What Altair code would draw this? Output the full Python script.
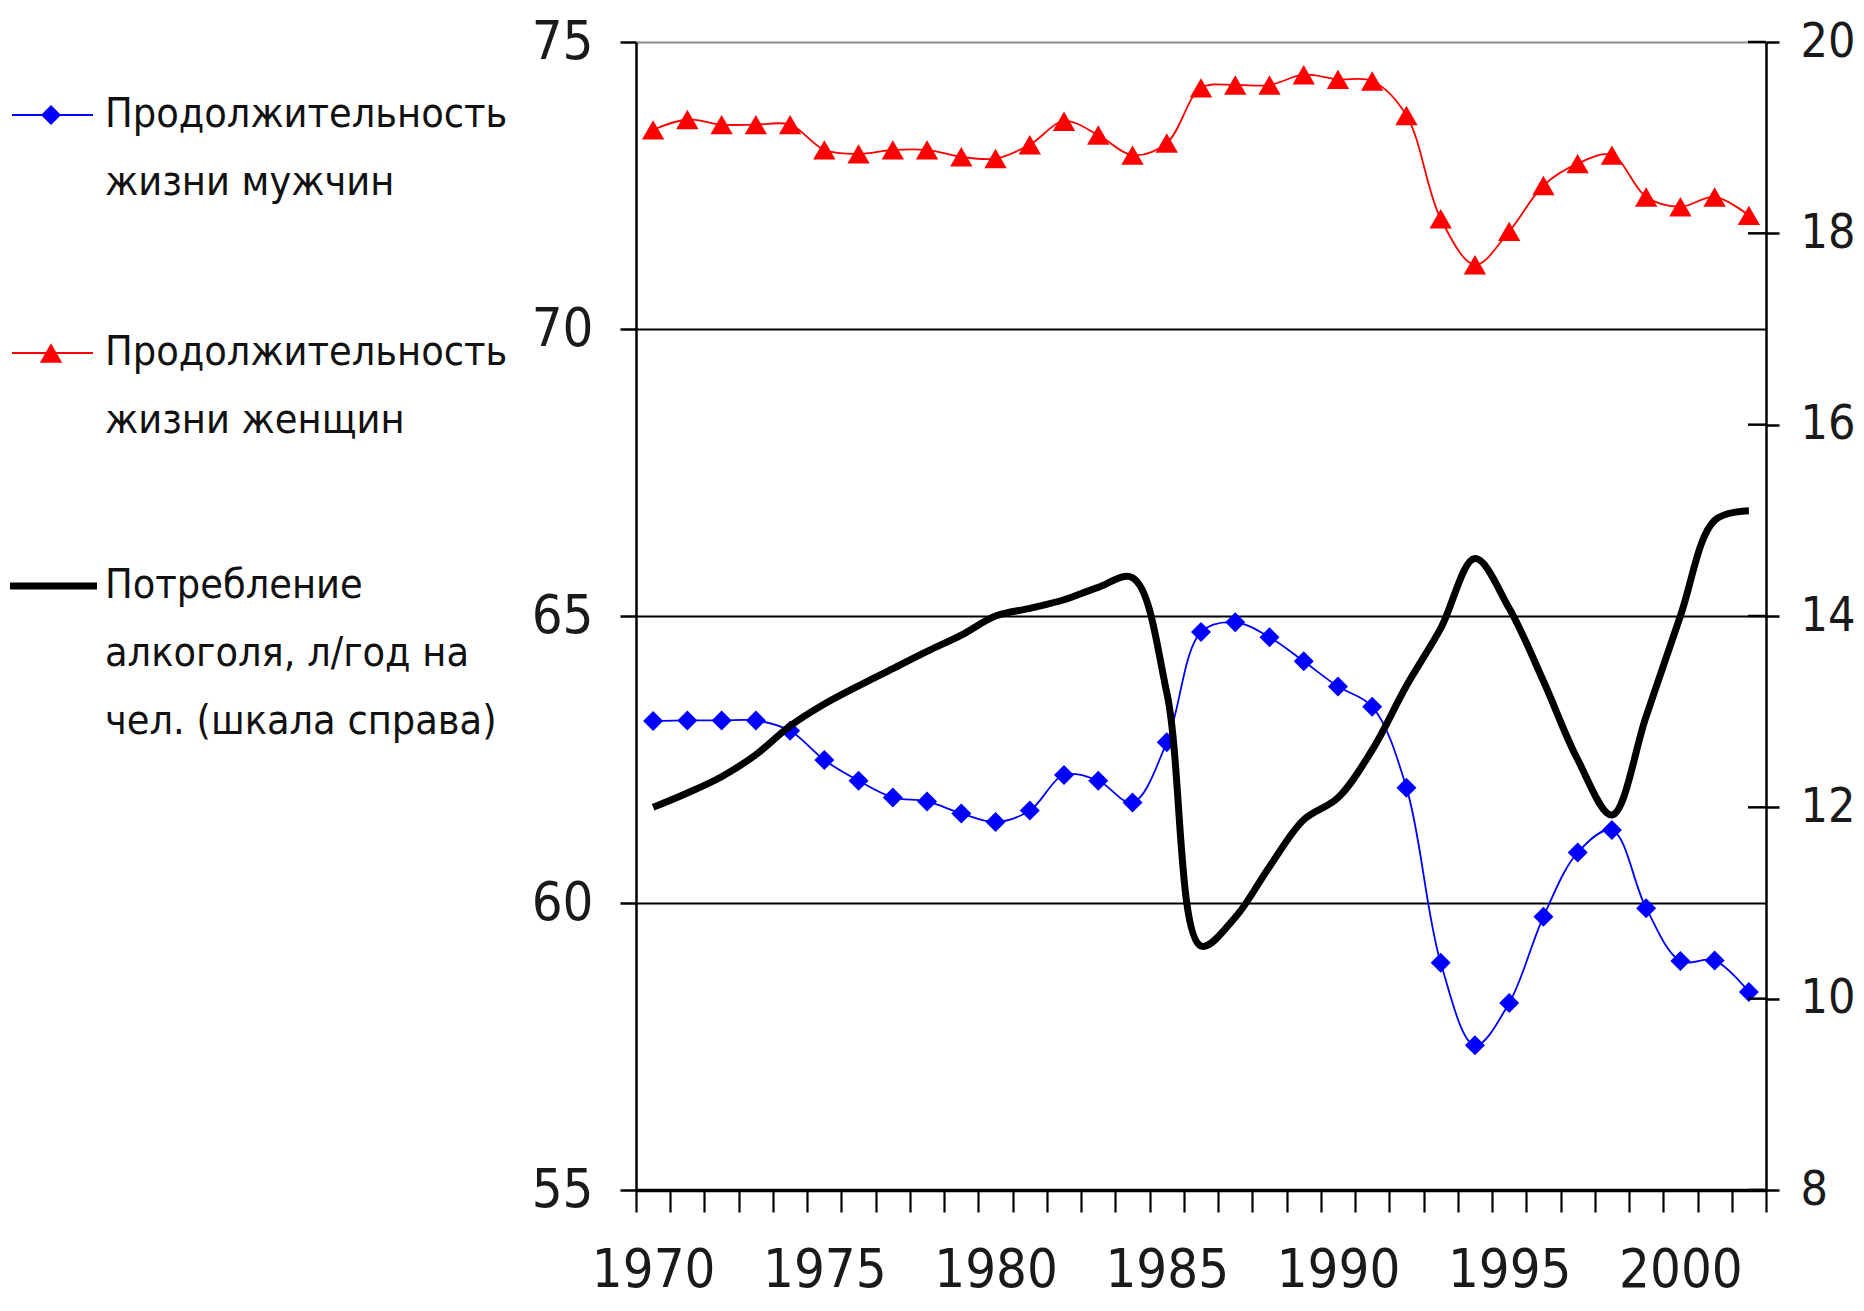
import altair as alt
import pandas as pd

# ---------------- data ----------------
years = list(range(1970, 2003))
male_le = [63.17, 63.18, 63.18, 63.18, 63.0, 62.49, 62.13, 61.84, 61.77, 61.56, 61.41, 61.61,
           62.23, 62.13, 61.75, 62.8, 64.72, 64.89, 64.63, 64.21, 63.77, 63.42, 62.01, 58.96,
           57.52, 58.26, 59.76, 60.88, 61.27, 59.91, 58.99, 59.0, 58.45]
female_le = [73.47, 73.65, 73.56, 73.56, 73.56, 73.12, 73.05, 73.12, 73.12, 73.0, 72.97, 73.21,
             73.62, 73.38, 73.03, 73.24, 74.2, 74.25, 74.25, 74.43, 74.35, 74.32, 73.72, 71.92,
             71.12, 71.7, 72.5, 72.88, 73.03, 72.3, 72.13, 72.3, 71.98]
alcohol = [12.0, 12.15, 12.32, 12.55, 12.85, 13.08, 13.27, 13.45, 13.63, 13.8, 14.0, 14.08,
           14.17, 14.3, 14.4, 13.2, 10.55, 10.85, 11.38, 11.87, 12.1, 12.6, 13.27, 13.87,
           14.6, 14.08, 13.32, 12.5, 11.92, 12.95, 14.0, 15.0, 15.1]

left_ticks = [55, 60, 65, 70, 75]
right_ticks = [8, 10, 12, 14, 16, 18, 20]
label_years = [1970, 1975, 1980, 1985, 1990, 1995, 2000]

legend_men = ["Продолжительность", "жизни мужчин"]
legend_women = ["Продолжительность", "жизни женщин"]
legend_alc = ["Потребление", "алкоголя, л/год на", "чел. (шкала справа)"]

df = pd.DataFrame({"year": years, "men": male_le, "women": female_le, "alc": alcohol})
df_rt = pd.DataFrame({"v": right_ticks})
one = pd.DataFrame({"k": [0]})

# ---------------- layout ----------------
W, H = 1130, 1148
FONT = "Liberation Sans Narrow, DejaVu Sans Condensed, Liberation Sans, sans-serif"
BLUE, RED = "#0000ff", "#ff0000"
band = W / len(years)

boundaries = [y - 0.5 for y in years] + [years[-1] + 0.5]
label_expr = "indexof([" + ",".join(str(y) for y in label_years) + "], datum.value + 0.5) >= 0 ? toString(datum.value + 0.5) : ''"

x_axis = alt.Axis(
    values=boundaries, labelExpr=label_expr, labelOffset=band / 2,
    labelFlush=False, labelOverlap=False, labelBound=False,
    tickSize=22, tickWidth=2.2, tickColor="black",
    domainColor="black", domainWidth=3.5,
    labelFont=FONT, labelFontSize=54, labelColor="#1a1a1a", labelPadding=31,
    grid=False, title=None,
)
x_enc = alt.X("year:Q", scale=alt.Scale(domain=[boundaries[0], boundaries[-1]], nice=False, zero=False), axis=x_axis)

left_axis = alt.Axis(
    values=left_ticks, grid=True,
    gridColor={"condition": {"test": "datum.value === 75", "value": "#8c8c8c"}, "value": "#000000"},
    gridWidth=2.2, domainColor="black", domainWidth=2.5,
    tickColor="black", tickSize=16, tickWidth=2.5,
    labelFont=FONT, labelFontSize=54, labelColor="#1a1a1a", labelPadding=27, title=None,
)
left_scale = alt.Scale(domain=[55, 75], nice=False, zero=False)
y_men = alt.Y("men:Q", scale=left_scale, axis=left_axis)
y_wom = alt.Y("women:Q", scale=left_scale, axis=left_axis)

men_line = alt.Chart(df).mark_line(interpolate="catmull-rom", color=BLUE, strokeWidth=1.8).encode(x=x_enc, y=y_men)
men_pts = alt.Chart(df).mark_point(shape="diamond", filled=True, size=400, color=BLUE, opacity=1).encode(x=x_enc, y=y_men)
wom_line = alt.Chart(df).mark_line(interpolate="catmull-rom", color=RED, strokeWidth=1.8).encode(x=x_enc, y=y_wom)
wom_pts = alt.Chart(df).mark_point(shape="triangle-up", filled=True, size=500, color=RED, opacity=1).encode(x=x_enc, y=y_wom)

# ---------------- legend (pixel positions relative to plot origin) ----------------
LX_TEXT = -531
LH = 68


def legend_entry(lines, y0, color, stroke_w, shape=None, size=0, x1=-624, x2=-543, xm=-585):
    layers = [
        alt.Chart(one).mark_rule(color=color, strokeWidth=stroke_w).encode(
            x=alt.value(x1), x2=alt.value(x2), y=alt.value(y0))
    ]
    if shape:
        layers.append(alt.Chart(one).mark_point(shape=shape, filled=True, size=size, color=color, opacity=1).encode(
            x=alt.value(xm), y=alt.value(y0)))
    for j, t in enumerate(lines):
        layers.append(alt.Chart(one).mark_text(
            text=t, align="left", baseline="middle", font=FONT, fontSize=41, color="#111111").encode(
            x=alt.value(LX_TEXT), y=alt.value(y0 + j * LH)))
    return layers


legend_layers = []
legend_layers += legend_entry(legend_men, 73, BLUE, 2, "diamond", 400)
legend_layers += legend_entry(legend_women, 311, RED, 2, "triangle-up", 500)
legend_layers += legend_entry(legend_alc, 544, "black", 7, x1=-626, x2=-539)

left = alt.layer(men_line, wom_line, men_pts, wom_pts, *legend_layers)

# ---------------- right axis (alcohol) ----------------
right_axis = alt.Axis(
    orient="right", values=right_ticks, grid=False,
    domainColor="black", domainWidth=2.5, tickColor="black", tickSize=13, tickWidth=2.5,
    labelFont=FONT, labelFontSize=48, labelColor="#1a1a1a", labelPadding=21, title=None,
)
right_scale = alt.Scale(domain=[8, 20], nice=False, zero=False)
alc_line = alt.Chart(df).mark_line(interpolate="catmull-rom", color="black", strokeWidth=7).encode(
    x=x_enc, y=alt.Y("alc:Q", scale=right_scale, axis=right_axis))
inner_ticks = alt.Chart(df_rt).mark_rule(color="black", strokeWidth=2.5).encode(
    y=alt.Y("v:Q", scale=right_scale, axis=right_axis),
    x=alt.value(W - 18), x2=alt.value(W),
)
right = alt.layer(alc_line, inner_ticks)

chart = (
    alt.layer(left, right)
    .resolve_scale(y="independent")
    .properties(width=W, height=H, autosize="none",
                padding={"left": 628, "top": 34, "right": 90, "bottom": 119})
    .configure_view(stroke=None)
    .configure(background="white")
)

chart.save("out.html", embed_options={"renderer": "svg", "actions": False})
